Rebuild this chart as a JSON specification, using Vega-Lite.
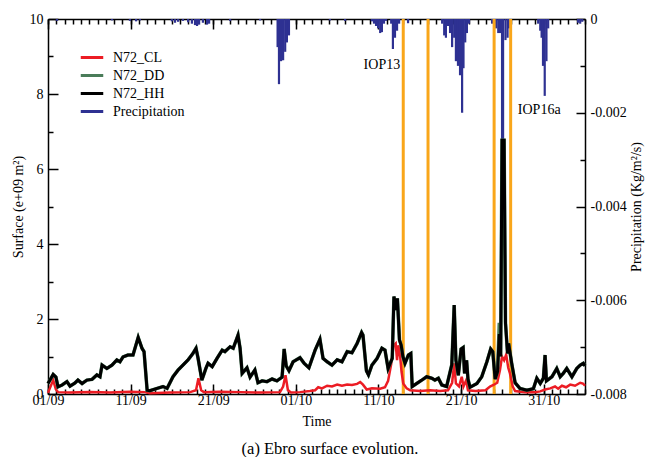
{
"$schema": "https://vega.github.io/schema/vega-lite/v6.json",
"width": 537, "height": 375,
"autosize": {"type": "none"},
"padding": {"left": 48, "top": 19, "right": 61, "bottom": 63},
"background": "white",
"config": {
 "font": "Liberation Serif",
 "view": {"stroke": null},
 "axis": {"grid": false, "domainColor": "black", "tickColor": "black", "labelColor": "black", "titleColor": "black", "labelFontSize": 14, "titleFontSize": 14, "titleFontWeight": "normal", "domainWidth": 1.5, "tickWidth": 1.5, "labelFont": "Liberation Serif", "titleFont": "Liberation Serif", "labelOverlap": false, "labelFlush": false},
 "legend": {"orient": "none", "legendX": 35, "legendY": 29.5, "symbolType": "M-1.5,0H1.5", "symbolSize": 225, "symbolStrokeWidth": 3, "labelFont": "Liberation Serif", "labelFontSize": 14, "labelColor": "black", "labelOffset": 12, "rowPadding": 2, "padding": 0}
},
"title": {"text": "(a) Ebro surface evolution.", "orient": "bottom", "frame": "group", "offset": 13, "dx": 13.5, "fontSize": 16.5, "fontWeight": "normal", "font": "Liberation Serif", "color": "black", "anchor": "middle"},
"datasets": {
"pr": [
{"t":"2012-09-02T02:00","p":-0.00004},
{"t":"2012-09-08T18:00","p":-0.00003},
{"t":"2012-09-10T22:00","p":-0.00004},
{"t":"2012-09-11T16:00","p":-0.00005},
{"t":"2012-09-12T03:00","p":-0.00003},
{"t":"2012-09-16T00:00","p":-0.00005},
{"t":"2012-09-16T09:00","p":-0.00008},
{"t":"2012-09-16T18:00","p":-0.00006},
{"t":"2012-09-17T08:00","p":-0.00004},
{"t":"2012-09-17T23:00","p":-0.00007},
{"t":"2012-09-18T10:00","p":-0.0001},
{"t":"2012-09-18T19:00","p":-0.00013},
{"t":"2012-09-19T01:00","p":-0.00015},
{"t":"2012-09-19T07:00","p":-0.00012},
{"t":"2012-09-19T18:00","p":-0.00008},
{"t":"2012-09-20T06:00","p":-0.00012},
{"t":"2012-09-20T12:00","p":-0.0001},
{"t":"2012-09-23T01:00","p":-0.00004},
{"t":"2012-09-26T16:00","p":-0.00003},
{"t":"2012-09-28T19:00","p":-0.0006},
{"t":"2012-09-28T23:00","p":-0.00139},
{"t":"2012-09-29T05:00","p":-0.0009},
{"t":"2012-09-29T11:00","p":-0.00088},
{"t":"2012-09-29T17:00","p":-0.0007},
{"t":"2012-09-29T22:00","p":-0.0005},
{"t":"2012-09-30T04:00","p":-0.00035},
{"t":"2012-10-05T03:00","p":-0.00003},
{"t":"2012-10-06T23:00","p":-0.00004},
{"t":"2012-10-10T05:00","p":-0.00005},
{"t":"2012-10-10T11:00","p":-0.0001},
{"t":"2012-10-10T17:00","p":-0.00015},
{"t":"2012-10-10T23:00","p":-0.0002},
{"t":"2012-10-11T05:00","p":-0.0003},
{"t":"2012-10-11T10:00","p":-0.00028},
{"t":"2012-10-11T16:00","p":-0.0001},
{"t":"2012-10-11T22:00","p":-0.00004},
{"t":"2012-10-12T13:00","p":-0.0001},
{"t":"2012-10-12T18:00","p":-0.00064},
{"t":"2012-10-13T00:00","p":-0.0004},
{"t":"2012-10-13T06:00","p":-0.00025},
{"t":"2012-10-13T12:00","p":-0.0001},
{"t":"2012-10-14T14:00","p":-0.00009},
{"t":"2012-10-18T17:00","p":-0.0001},
{"t":"2012-10-18T23:00","p":-0.00035},
{"t":"2012-10-19T04:00","p":-0.0004},
{"t":"2012-10-19T10:00","p":-0.00015},
{"t":"2012-10-19T16:00","p":-0.0003},
{"t":"2012-10-19T22:00","p":-0.0006},
{"t":"2012-10-20T04:00","p":-0.0004},
{"t":"2012-10-20T09:00","p":-0.0009},
{"t":"2012-10-20T15:00","p":-0.001},
{"t":"2012-10-20T21:00","p":-0.0012},
{"t":"2012-10-21T03:00","p":-0.002},
{"t":"2012-10-21T07:00","p":-0.00105},
{"t":"2012-10-21T12:00","p":-0.0005},
{"t":"2012-10-21T17:00","p":-0.0003},
{"t":"2012-10-21T23:00","p":-0.0001},
{"t":"2012-10-24T18:00","p":-0.0001},
{"t":"2012-10-25T00:00","p":-0.00015},
{"t":"2012-10-25T06:00","p":-0.0002},
{"t":"2012-10-25T12:00","p":-0.0003},
{"t":"2012-10-25T17:00","p":-0.0003},
{"t":"2012-10-25T23:00","p":-0.0026},
{"t":"2012-10-26T02:00","p":-0.0026},
{"t":"2012-10-26T09:00","p":-0.00045},
{"t":"2012-10-26T15:00","p":-0.0004},
{"t":"2012-10-26T19:00","p":-0.0002},
{"t":"2012-10-30T08:00","p":-0.0001},
{"t":"2012-10-30T14:00","p":-0.00025},
{"t":"2012-10-30T18:00","p":-0.0004},
{"t":"2012-10-30T22:00","p":-0.001},
{"t":"2012-10-31T03:00","p":-0.00164},
{"t":"2012-10-31T08:00","p":-0.0009},
{"t":"2012-10-31T13:00","p":-0.0002},
{"t":"2012-11-04T04:00","p":-0.00008},
{"t":"2012-11-04T10:00","p":-0.0001},
{"t":"2012-11-04T16:00","p":-0.00006}
],
"iop": [
{"t":"2012-10-14T00:00"},{"t":"2012-10-17T00:00"},{"t":"2012-10-25T00:00"},{"t":"2012-10-27T00:00"}
],
"labels": [
{"t":"2012-10-11T10:00","p":-0.00098,"label":"IOP13"},
{"t":"2012-10-30T11:00","p":-0.00194,"label":"IOP16a"}
],
"cl": [
{"t":"2012-09-01T00:00","v":0.03},
{"t":"2012-09-01T15:00","v":0.37},
{"t":"2012-09-01T23:00","v":0.12},
{"t":"2012-09-02T05:00","v":0.05},
{"t":"2012-09-03T16:00","v":0.04},
{"t":"2012-09-06T02:00","v":0.05},
{"t":"2012-09-08T12:00","v":0.04},
{"t":"2012-09-10T22:00","v":0.06},
{"t":"2012-09-12T18:00","v":0.05},
{"t":"2012-09-13T08:00","v":0.02},
{"t":"2012-09-15T18:00","v":0.04},
{"t":"2012-09-18T05:00","v":0.05},
{"t":"2012-09-18T22:00","v":0.1},
{"t":"2012-09-19T05:00","v":0.42},
{"t":"2012-09-19T13:00","v":0.1},
{"t":"2012-09-19T21:00","v":0.05},
{"t":"2012-09-21T20:00","v":0.06},
{"t":"2012-09-24T06:00","v":0.05},
{"t":"2012-09-26T16:00","v":0.04},
{"t":"2012-09-29T02:00","v":0.05},
{"t":"2012-09-29T11:00","v":0.2},
{"t":"2012-09-29T18:00","v":0.5},
{"t":"2012-09-30T01:00","v":0.1},
{"t":"2012-09-30T10:00","v":0.04},
{"t":"2012-10-01T12:00","v":0.05},
{"t":"2012-10-02T17:00","v":0.08},
{"t":"2012-10-03T08:00","v":0.1},
{"t":"2012-10-03T17:00","v":0.18},
{"t":"2012-10-04T04:00","v":0.15},
{"t":"2012-10-04T19:00","v":0.22},
{"t":"2012-10-05T09:00","v":0.2},
{"t":"2012-10-06T00:00","v":0.25},
{"t":"2012-10-06T14:00","v":0.22},
{"t":"2012-10-07T05:00","v":0.25},
{"t":"2012-10-07T19:00","v":0.24},
{"t":"2012-10-08T10:00","v":0.27},
{"t":"2012-10-08T19:00","v":0.32},
{"t":"2012-10-09T03:00","v":0.25},
{"t":"2012-10-09T14:00","v":0.12},
{"t":"2012-10-10T05:00","v":0.15},
{"t":"2012-10-11T05:00","v":0.14},
{"t":"2012-10-11T19:00","v":0.18},
{"t":"2012-10-12T04:00","v":0.35},
{"t":"2012-10-12T13:00","v":0.8},
{"t":"2012-10-12T20:00","v":1.3},
{"t":"2012-10-13T02:00","v":1.35},
{"t":"2012-10-13T06:00","v":0.9},
{"t":"2012-10-13T10:00","v":1.3},
{"t":"2012-10-13T15:00","v":1.0},
{"t":"2012-10-13T19:00","v":0.6},
{"t":"2012-10-14T00:00","v":0.28},
{"t":"2012-10-14T10:00","v":0.15},
{"t":"2012-10-14T20:00","v":0.1},
{"t":"2012-10-16T01:00","v":0.08},
{"t":"2012-10-17T06:00","v":0.1},
{"t":"2012-10-18T11:00","v":0.08},
{"t":"2012-10-19T10:00","v":0.1},
{"t":"2012-10-19T22:00","v":0.3},
{"t":"2012-10-20T04:00","v":0.82},
{"t":"2012-10-20T09:00","v":0.28},
{"t":"2012-10-20T18:00","v":0.2},
{"t":"2012-10-21T02:00","v":0.46},
{"t":"2012-10-21T07:00","v":0.2},
{"t":"2012-10-21T15:00","v":0.37},
{"t":"2012-10-21T20:00","v":0.1},
{"t":"2012-10-22T18:00","v":0.08},
{"t":"2012-10-23T23:00","v":0.1},
{"t":"2012-10-24T12:00","v":0.2},
{"t":"2012-10-24T22:00","v":0.24},
{"t":"2012-10-25T09:00","v":0.3},
{"t":"2012-10-25T17:00","v":0.64},
{"t":"2012-10-25T23:00","v":1.0},
{"t":"2012-10-26T05:00","v":0.9},
{"t":"2012-10-26T11:00","v":1.05},
{"t":"2012-10-26T17:00","v":0.7},
{"t":"2012-10-26T22:00","v":0.55},
{"t":"2012-10-27T06:00","v":0.2},
{"t":"2012-10-27T13:00","v":0.08},
{"t":"2012-10-28T18:00","v":0.05},
{"t":"2012-10-29T23:00","v":0.05},
{"t":"2012-10-30T14:00","v":0.07},
{"t":"2012-10-31T04:00","v":0.12},
{"t":"2012-10-31T19:00","v":0.15},
{"t":"2012-11-01T09:00","v":0.2},
{"t":"2012-11-01T18:00","v":0.14},
{"t":"2012-11-02T05:00","v":0.22},
{"t":"2012-11-02T17:00","v":0.18},
{"t":"2012-11-03T05:00","v":0.25},
{"t":"2012-11-03T19:00","v":0.22},
{"t":"2012-11-04T10:00","v":0.3},
{"t":"2012-11-04T18:00","v":0.28},
{"t":"2012-11-05T00:00","v":0.22}
],
"hh": [
{"t":"2012-09-01T00:00","dd":0.28,"hh":0.28},
{"t":"2012-09-01T15:00","dd":0.52,"hh":0.52},
{"t":"2012-09-01T23:00","dd":0.45,"hh":0.45},
{"t":"2012-09-02T05:00","dd":0.19,"hh":0.19},
{"t":"2012-09-02T17:00","dd":0.24,"hh":0.24},
{"t":"2012-09-03T07:00","dd":0.33,"hh":0.33},
{"t":"2012-09-03T16:00","dd":0.21,"hh":0.21},
{"t":"2012-09-04T06:00","dd":0.29,"hh":0.29},
{"t":"2012-09-04T15:00","dd":0.37,"hh":0.37},
{"t":"2012-09-05T03:00","dd":0.28,"hh":0.28},
{"t":"2012-09-05T17:00","dd":0.37,"hh":0.37},
{"t":"2012-09-06T08:00","dd":0.39,"hh":0.39},
{"t":"2012-09-06T22:00","dd":0.51,"hh":0.51},
{"t":"2012-09-07T07:00","dd":0.46,"hh":0.46},
{"t":"2012-09-07T13:00","dd":0.77,"hh":0.77},
{"t":"2012-09-08T03:00","dd":0.68,"hh":0.68},
{"t":"2012-09-08T18:00","dd":0.77,"hh":0.77},
{"t":"2012-09-09T08:00","dd":0.91,"hh":0.91},
{"t":"2012-09-09T17:00","dd":0.86,"hh":0.86},
{"t":"2012-09-10T02:00","dd":0.99,"hh":0.99},
{"t":"2012-09-10T16:00","dd":1.04,"hh":1.04},
{"t":"2012-09-11T07:00","dd":1.04,"hh":1.04},
{"t":"2012-09-11T22:00","dd":1.51,"hh":1.51},
{"t":"2012-09-12T09:00","dd":1.22,"hh":1.22},
{"t":"2012-09-12T15:00","dd":1.13,"hh":1.13},
{"t":"2012-09-13T00:00","dd":0.10,"hh":0.10},
{"t":"2012-09-13T08:00","dd":0.09,"hh":0.09},
{"t":"2012-09-14T05:00","dd":0.15,"hh":0.15},
{"t":"2012-09-14T22:00","dd":0.20,"hh":0.20},
{"t":"2012-09-15T10:00","dd":0.15,"hh":0.15},
{"t":"2012-09-16T03:00","dd":0.46,"hh":0.46},
{"t":"2012-09-16T18:00","dd":0.64,"hh":0.64},
{"t":"2012-09-17T08:00","dd":0.77,"hh":0.77},
{"t":"2012-09-17T23:00","dd":0.91,"hh":0.91},
{"t":"2012-09-18T13:00","dd":1.08,"hh":1.08},
{"t":"2012-09-18T22:00","dd":1.22,"hh":1.22},
{"t":"2012-09-19T04:00","dd":0.95,"hh":0.95},
{"t":"2012-09-19T15:00","dd":0.37,"hh":0.37},
{"t":"2012-09-20T03:00","dd":0.69,"hh":0.69},
{"t":"2012-09-20T09:00","dd":0.82,"hh":0.82},
{"t":"2012-09-20T21:00","dd":0.73,"hh":0.73},
{"t":"2012-09-21T11:00","dd":0.95,"hh":0.95},
{"t":"2012-09-22T02:00","dd":1.17,"hh":1.17},
{"t":"2012-09-22T10:00","dd":1.13,"hh":1.13},
{"t":"2012-09-23T01:00","dd":1.26,"hh":1.26},
{"t":"2012-09-23T10:00","dd":1.22,"hh":1.22},
{"t":"2012-09-24T00:00","dd":1.57,"hh":1.57},
{"t":"2012-09-24T06:00","dd":1.22,"hh":1.22},
{"t":"2012-09-24T12:00","dd":0.55,"hh":0.55},
{"t":"2012-09-25T02:00","dd":0.70,"hh":0.70},
{"t":"2012-09-25T11:00","dd":0.45,"hh":0.45},
{"t":"2012-09-26T01:00","dd":0.64,"hh":0.64},
{"t":"2012-09-26T10:00","dd":0.30,"hh":0.30},
{"t":"2012-09-26T22:00","dd":0.35,"hh":0.35},
{"t":"2012-09-27T12:00","dd":0.33,"hh":0.33},
{"t":"2012-09-28T03:00","dd":0.40,"hh":0.40},
{"t":"2012-09-28T17:00","dd":0.35,"hh":0.35},
{"t":"2012-09-29T08:00","dd":0.45,"hh":0.45},
{"t":"2012-09-29T14:00","dd":1.20,"hh":1.20},
{"t":"2012-09-29T20:00","dd":0.75,"hh":0.75},
{"t":"2012-09-30T04:00","dd":0.62,"hh":0.62},
{"t":"2012-09-30T16:00","dd":0.86,"hh":0.86},
{"t":"2012-10-01T12:00","dd":0.97,"hh":0.97},
{"t":"2012-10-02T00:00","dd":0.82,"hh":0.82},
{"t":"2012-10-02T14:00","dd":0.70,"hh":0.70},
{"t":"2012-10-03T08:00","dd":1.17,"hh":1.17},
{"t":"2012-10-03T22:00","dd":1.46,"hh":1.46},
{"t":"2012-10-04T07:00","dd":0.95,"hh":0.95},
{"t":"2012-10-04T19:00","dd":0.86,"hh":0.86},
{"t":"2012-10-05T09:00","dd":0.77,"hh":0.77},
{"t":"2012-10-06T00:00","dd":0.91,"hh":0.91},
{"t":"2012-10-06T14:00","dd":0.86,"hh":0.86},
{"t":"2012-10-07T05:00","dd":1.13,"hh":1.13},
{"t":"2012-10-07T19:00","dd":1.10,"hh":1.10},
{"t":"2012-10-08T10:00","dd":1.35,"hh":1.35},
{"t":"2012-10-08T23:00","dd":1.64,"hh":1.64},
{"t":"2012-10-09T03:00","dd":1.57,"hh":1.57},
{"t":"2012-10-09T13:00","dd":0.62,"hh":0.62},
{"t":"2012-10-09T19:00","dd":0.51,"hh":0.51},
{"t":"2012-10-10T05:00","dd":0.77,"hh":0.77},
{"t":"2012-10-10T20:00","dd":0.95,"hh":0.95},
{"t":"2012-10-11T10:00","dd":1.22,"hh":1.22},
{"t":"2012-10-11T19:00","dd":1.17,"hh":1.17},
{"t":"2012-10-12T04:00","dd":0.68,"hh":0.68},
{"t":"2012-10-12T16:00","dd":0.95,"hh":0.95},
{"t":"2012-10-12T21:00","dd":2.60,"hh":2.60},
{"t":"2012-10-13T03:00","dd":2.24,"hh":2.24},
{"t":"2012-10-13T07:00","dd":2.55,"hh":2.55},
{"t":"2012-10-13T13:00","dd":1.44,"hh":1.44},
{"t":"2012-10-13T18:00","dd":1.30,"hh":1.30},
{"t":"2012-10-13T23:00","dd":1.00,"hh":1.00},
{"t":"2012-10-14T05:00","dd":0.82,"hh":0.82},
{"t":"2012-10-14T15:00","dd":1.04,"hh":1.04},
{"t":"2012-10-14T22:00","dd":1.08,"hh":1.08},
{"t":"2012-10-15T02:00","dd":0.20,"hh":0.20},
{"t":"2012-10-15T15:00","dd":0.28,"hh":0.28},
{"t":"2012-10-16T06:00","dd":0.37,"hh":0.37},
{"t":"2012-10-16T20:00","dd":0.46,"hh":0.46},
{"t":"2012-10-17T11:00","dd":0.42,"hh":0.42},
{"t":"2012-10-17T20:00","dd":0.37,"hh":0.37},
{"t":"2012-10-18T06:00","dd":0.42,"hh":0.42},
{"t":"2012-10-18T16:00","dd":0.24,"hh":0.24},
{"t":"2012-10-19T06:00","dd":0.20,"hh":0.20},
{"t":"2012-10-19T21:00","dd":0.78,"hh":0.78},
{"t":"2012-10-20T04:00","dd":2.37,"hh":2.37},
{"t":"2012-10-20T09:00","dd":0.90,"hh":0.90},
{"t":"2012-10-20T16:00","dd":0.50,"hh":0.50},
{"t":"2012-10-21T00:00","dd":1.20,"hh":1.20},
{"t":"2012-10-21T06:00","dd":1.24,"hh":1.24},
{"t":"2012-10-21T10:00","dd":0.55,"hh":0.55},
{"t":"2012-10-21T16:00","dd":0.90,"hh":0.90},
{"t":"2012-10-21T20:00","dd":0.40,"hh":0.40},
{"t":"2012-10-22T02:00","dd":0.18,"hh":0.18},
{"t":"2012-10-22T22:00","dd":0.28,"hh":0.28},
{"t":"2012-10-23T12:00","dd":0.46,"hh":0.46},
{"t":"2012-10-24T03:00","dd":0.86,"hh":0.86},
{"t":"2012-10-24T14:00","dd":1.20,"hh":1.20},
{"t":"2012-10-24T20:00","dd":1.13,"hh":1.13},
{"t":"2012-10-25T03:00","dd":0.40,"hh":0.40},
{"t":"2012-10-25T10:00","dd":0.60,"hh":0.60},
{"t":"2012-10-25T15:00","dd":1.90,"hh":1.60},
{"t":"2012-10-25T19:00","dd":1.00,"hh":1.00},
{"t":"2012-10-25T23:00","dd":6.77,"hh":6.77},
{"t":"2012-10-26T05:00","dd":6.77,"hh":6.77},
{"t":"2012-10-26T09:00","dd":1.90,"hh":1.90},
{"t":"2012-10-26T15:00","dd":1.08,"hh":1.08},
{"t":"2012-10-26T18:00","dd":1.35,"hh":1.35},
{"t":"2012-10-27T03:00","dd":0.82,"hh":0.82},
{"t":"2012-10-27T13:00","dd":0.30,"hh":0.30},
{"t":"2012-10-28T03:00","dd":0.15,"hh":0.15},
{"t":"2012-10-28T23:00","dd":0.10,"hh":0.10},
{"t":"2012-10-29T18:00","dd":0.14,"hh":0.14},
{"t":"2012-10-30T04:00","dd":0.42,"hh":0.42},
{"t":"2012-10-30T14:00","dd":0.28,"hh":0.28},
{"t":"2012-10-30T23:00","dd":0.42,"hh":0.42},
{"t":"2012-10-31T04:00","dd":1.04,"hh":1.04},
{"t":"2012-10-31T08:00","dd":0.35,"hh":0.35},
{"t":"2012-11-01T00:00","dd":0.46,"hh":0.46},
{"t":"2012-11-01T14:00","dd":0.68,"hh":0.68},
{"t":"2012-11-02T00:00","dd":0.46,"hh":0.46},
{"t":"2012-11-02T09:00","dd":0.55,"hh":0.55},
{"t":"2012-11-02T19:00","dd":0.68,"hh":0.68},
{"t":"2012-11-03T10:00","dd":0.46,"hh":0.46},
{"t":"2012-11-04T00:00","dd":0.68,"hh":0.68},
{"t":"2012-11-04T10:00","dd":0.77,"hh":0.77},
{"t":"2012-11-04T19:00","dd":0.82,"hh":0.82},
{"t":"2012-11-05T00:00","dd":0.75,"hh":0.75}
]
},
"layer": [
 {
  "data": {"name": "pr"},
  "mark": {"type": "rule", "strokeWidth": 2.2},
  "encoding": {
   "x": {"field": "t", "type": "temporal",
    "scale": {"domain": [{"year": 2012, "month": 9, "date": 1}, {"year": 2012, "month": 11, "date": 5}], "nice": false},
    "axis": {"orient": "bottom", "values": [{"year": 2012, "month": 9, "date": 1}, {"year": 2012, "month": 9, "date": 11}, {"year": 2012, "month": 9, "date": 21}, {"year": 2012, "month": 10, "date": 1}, {"year": 2012, "month": 10, "date": 11}, {"year": 2012, "month": 10, "date": 21}, {"year": 2012, "month": 10, "date": 31}], "format": "%d/%m", "tickSize": -10, "labelPadding": 9, "title": "Time", "titlePadding": 7}},
   "y": {"field": "p", "type": "quantitative",
    "scale": {"domain": [-0.008, 0], "nice": false, "zero": false},
    "axis": {"orient": "right", "values": [0, -0.002, -0.004, -0.006, -0.008], "labelExpr": "datum.value == 0 ? '0' : '-' + format(-datum.value, '.3f')", "tickSize": -9, "labelPadding": 14, "title": "Precipitation (Kg/m²/s)", "titleAngle": -90, "titleBaseline": "top", "titlePadding": 3}},
   "y2": {"datum": 0},
   "color": {"datum": "Precipitation", "type": "nominal",
    "scale": {"domain": ["N72_CL", "N72_DD", "N72_HH", "Precipitation"], "range": ["#ec1c24", "#4a7c59", "#000000", "#2e3192"]},
    "legend": {"title": null}}
  }
 },
 {
  "data": {"name": "iop"},
  "mark": {"type": "rule", "strokeWidth": 3, "color": "#f9a61a"},
  "encoding": {
   "x": {"field": "t", "type": "temporal",
    "axis": {"orient": "bottom", "tickCount": {"interval": "day", "step": 1}, "tickSize": -5, "labels": false, "domain": false, "title": null}}
  }
 },
 {
  "data": {"name": "cl"},
  "mark": {"type": "line", "strokeWidth": 2.5},
  "encoding": {
   "x": {"field": "t", "type": "temporal",
    "axis": {"orient": "top", "values": [{"year": 2012, "month": 9, "date": 1}, {"year": 2012, "month": 9, "date": 11}, {"year": 2012, "month": 9, "date": 21}, {"year": 2012, "month": 10, "date": 1}, {"year": 2012, "month": 10, "date": 11}, {"year": 2012, "month": 10, "date": 21}, {"year": 2012, "month": 10, "date": 31}], "tickSize": -10, "labels": false, "title": null}},
   "y": {"field": "v", "type": "quantitative",
    "scale": {"domain": [0, 10], "nice": false},
    "axis": {"orient": "left", "values": [0, 2, 4, 6, 8, 10], "tickSize": -10, "labelPadding": 15, "title": "Surface (e+09 m²)", "titlePadding": 4}},
   "color": {"datum": "N72_CL", "type": "nominal", "legend": {"title": null}}
  }
 },
 {
  "data": {"name": "hh"},
  "mark": {"type": "line", "strokeWidth": 3.5},
  "encoding": {
   "x": {"field": "t", "type": "temporal",
    "axis": {"orient": "top", "tickCount": {"interval": "day", "step": 1}, "tickSize": -5, "labels": false, "domain": false, "title": null}},
   "y": {"field": "dd", "type": "quantitative",
    "scale": {"domain": [0, 10], "nice": false},
    "axis": {"orient": "left", "values": [1, 3, 5, 7, 9], "tickSize": -5, "labels": false, "domain": false, "title": null}},
   "color": {"datum": "N72_DD", "type": "nominal", "legend": {"title": null}}
  }
 },
 {
  "data": {"name": "hh"},
  "mark": {"type": "line", "strokeWidth": 3},
  "encoding": {
   "x": {"field": "t", "type": "temporal", "axis": null},
   "y": {"field": "hh", "type": "quantitative", "scale": {"domain": [0, 10], "nice": false}, "axis": null},
   "color": {"datum": "N72_HH", "type": "nominal", "legend": {"title": null}}
  }
 },
 {
  "data": {"name": "labels"},
  "mark": {"type": "text", "fontSize": 14, "font": "Liberation Serif", "color": "black", "align": "center", "baseline": "middle"},
  "encoding": {
   "x": {"field": "t", "type": "temporal", "axis": null},
   "y": {"field": "p", "type": "quantitative", "scale": {"domain": [-0.008, 0], "nice": false, "zero": false},
    "axis": {"orient": "right", "values": [-0.001, -0.003, -0.005, -0.007], "tickSize": -5, "labels": false, "domain": false, "title": null}},
   "text": {"field": "label"}
  }
 }
],
"resolve": {"scale": {"y": "independent"}, "axis": {"x": "independent", "y": "independent"}}
}
